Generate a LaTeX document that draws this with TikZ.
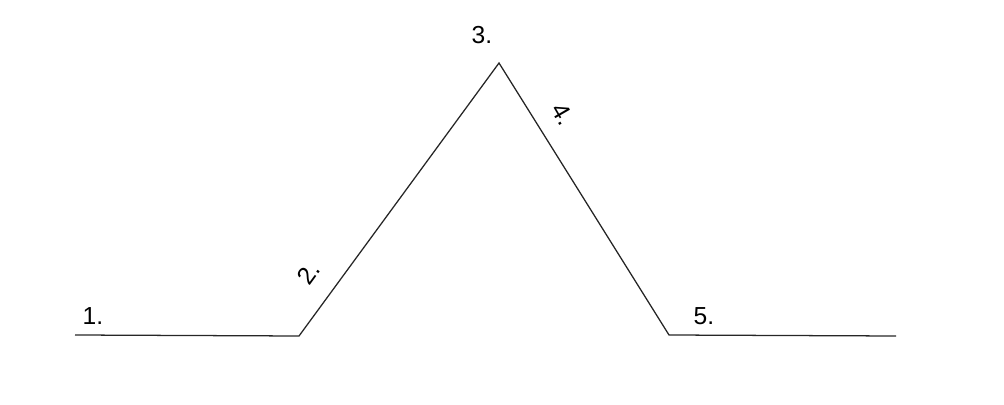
\documentclass[tikz,border=0pt]{standalone}
\usepackage{fontspec}
\setmainfont{Liberation Sans}
\begin{document}
\begin{tikzpicture}[x=0.025cm,y=-0.025cm,
    every node/.style={inner sep=0pt, font=\fontsize{17.5}{20}\selectfont},
    ridge/.style={line width=0.9pt, black!85}]

    \useasboundingbox (0,0) rectangle (1004,405);

    % Corner points of the profile
    \coordinate (p1) at (75,335);
    \coordinate (p2) at (299,336);
    \coordinate (p3) at (499,63);
    \coordinate (p4) at (669,335);
    \coordinate (p5) at (896,336);

    \draw [ridge] (p1) -- (p2) -- (p3) -- (p4) -- (p5);

    % Labels
    \node (l1) at (93,316) {1.};
    \node [rotate=54] (l2) at (309,273) {2.};
    \node (l3) at (482,35) {3.};
    \node [rotate=-60] (l4) at (563,114) {4.};
    \node (l5) at (704,316) {5.};

  \end{tikzpicture}
\end{document}
